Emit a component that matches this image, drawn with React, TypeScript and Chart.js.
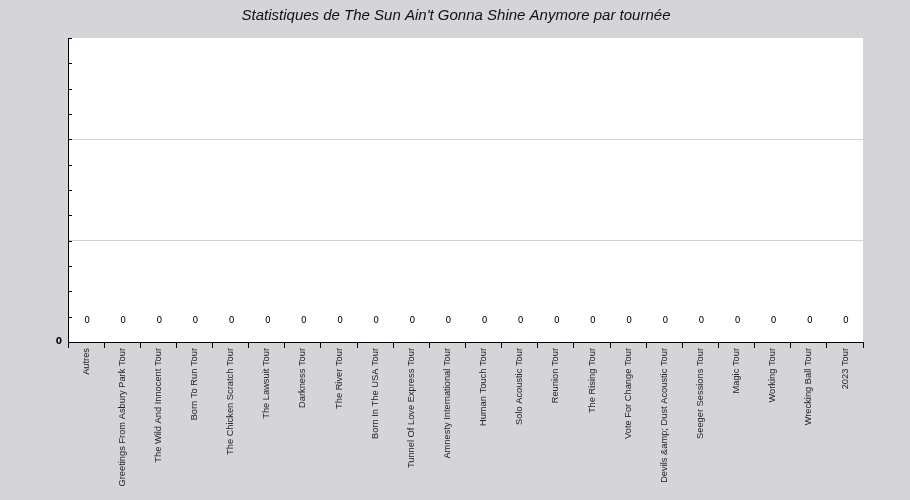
import { useEffect, useRef } from 'react'
import { Chart, registerables } from 'chart.js'

Chart.register(...registerables)

const TITLE = "Statistiques de The Sun Ain't Gonna Shine Anymore par tournée"

const tours = [
  'Autres',
  'Greetings From Asbury Park Tour',
  'The Wild And Innocent Tour',
  'Born To Run Tour',
  'The Chicken Scratch Tour',
  'The Lawsuit Tour',
  'Darkness Tour',
  'The River Tour',
  'Born In The USA Tour',
  'Tunnel Of Love Express Tour',
  'Amnesty International Tour',
  'Human Touch Tour',
  'Solo Acoustic Tour',
  'Reunion Tour',
  'The Rising Tour',
  'Vote For Change Tour',
  'Devils &amp; Dust Acoustic Tour',
  'Seeger Sessions Tour',
  'Magic Tour',
  'Working Tour',
  'Wrecking Ball Tour',
  '2023 Tour',
]

const plays = [0, 0, 0, 0, 0, 0, 0, 0, 0, 0, 0, 0, 0, 0, 0, 0, 0, 0, 0, 0, 0, 0]

const yMax = 3
const yMinorStep = 0.25

// titre + petits repères intérieurs + étiquettes "0" au-dessus des points
const decorPlugin = {
  id: 'decor',
  beforeDraw(chart: any) {
    const { ctx, chartArea } = chart
    ctx.save()
    ctx.fillStyle = '#ffffff'
    ctx.fillRect(chartArea.left, chartArea.top, chartArea.right - chartArea.left, chartArea.bottom - chartArea.top)
    ctx.restore()
  },
  afterDraw(chart: any) {
    const { ctx, chartArea, scales } = chart
    ctx.save()
    ctx.font = 'italic 15px "Liberation Sans", Arial, sans-serif'
    ctx.fillStyle = '#111'
    ctx.textAlign = 'center'
    ctx.textBaseline = 'middle'
    ctx.fillText(TITLE, chart.width / 2 + 1, 16)

    ctx.strokeStyle = '#000'
    ctx.lineWidth = 1
    scales.y.ticks.forEach((t: any) => {
      const y = Math.round(scales.y.getPixelForValue(t.value)) + 0.5
      ctx.beginPath()
      ctx.moveTo(chartArea.left, y)
      ctx.lineTo(chartArea.left + 4, y)
      ctx.stroke()
    })

    ctx.font = '9px "DejaVu Sans", sans-serif'
    ctx.fillStyle = '#000'
    ctx.textBaseline = 'middle'
    plays.forEach((v, i) => {
      const x = scales.x.getPixelForValue(i) + 1
      const y = scales.y.getPixelForValue(v)
      ctx.fillText(String(v), x, y - 21)
    })
    ctx.restore()
  },
}

export default function App() {
  const canvasRef = useRef<HTMLCanvasElement>(null)
  const chartRef = useRef<Chart | null>(null)

  useEffect(() => {
    document.body.style.margin = '0'
    document.body.style.background = '#d5d4d9'
    if (!canvasRef.current) return
    const ctx = canvasRef.current.getContext('2d')
    if (!ctx) return

    chartRef.current = new Chart(ctx, {
      type: 'line',
      data: {
        labels: tours,
        datasets: [
          {
            label: 'Tournées',
            data: plays,
            showLine: false,
            pointRadius: 0,
            pointHoverRadius: 0,
          },
        ],
      },
      options: {
        animation: false,
        responsive: false,
        layout: { padding: { left: 0, right: 47, top: 38, bottom: 0 } },
        plugins: {
          legend: { display: false },
          title: { display: false },
          tooltip: { enabled: false },
        },
        scales: {
          x: {
            offset: true,
            afterFit: (s: any) => {
              s.height = 158
            },
            grid: {
              offset: true,
              drawOnChartArea: false,
              drawTicks: true,
              tickLength: 6,
              color: '#000',
            },
            border: { display: true, color: '#000', width: 1 },
            ticks: {
              autoSkip: false,
              maxRotation: 90,
              minRotation: 90,
              padding: 0,
              color: '#222',
              font: { family: '"Liberation Sans", Arial, sans-serif', size: 9.3 },
            },
          },
          y: {
            min: 0,
            max: yMax,
            afterFit: (s: any) => {
              s.width = 68
            },
            grid: {
              drawTicks: false,
              color: (c: any) => (c.tick && (c.tick.value === 1 || c.tick.value === 2) ? '#d3d3d3' : 'rgba(0,0,0,0)'),
            },
            border: { display: true, color: '#000', width: 1 },
            ticks: {
              stepSize: yMinorStep,
              padding: 6,
              color: '#000',
              font: { family: '"DejaVu Sans", sans-serif', size: 9, weight: 'bold' },
              callback: (v: any) => (v === 0 ? '0' : ''),
            },
          },
        },
      },
      plugins: [decorPlugin],
    } as any)

    return () => {
      chartRef.current?.destroy()
      chartRef.current = null
    }
  }, [])

  return (
    <div style={{ width: 910, height: 500, background: '#d5d4d9' }}>
      <canvas ref={canvasRef} width={910} height={500} role="img" aria-label={TITLE} />
    </div>
  )
}
